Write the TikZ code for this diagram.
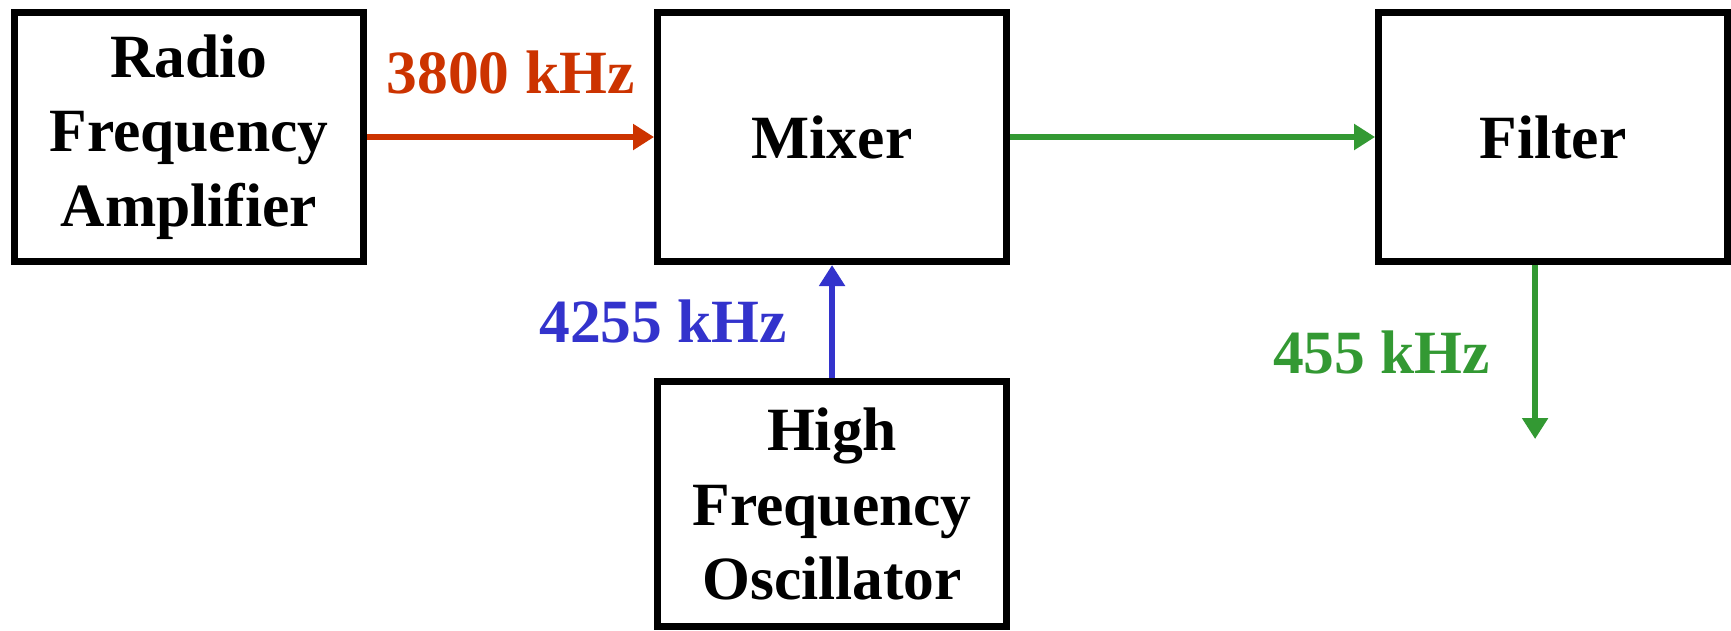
\documentclass[tikz,border=0pt]{standalone}
\usepackage{fontspec}
\setmainfont{Liberation Serif}
\usepackage{xcolor}
\usepackage{tikz}
\usetikzlibrary{arrows.meta,positioning,calc}
\definecolor{ink}{HTML}{000000}
\definecolor{rfred}{HTML}{CC3300}
\definecolor{loblue}{HTML}{3333CC}
\definecolor{ifgreen}{HTML}{339933}
\tikzset{
  block/.style={
    rectangle,draw=ink,line width=4pt,fill=white,
    minimum width=6.98cm,minimum height=4.98cm,align=center,
    font=\fontsize{35}{42.5}\selectfont\bfseries,inner sep=0pt
  },
  freq/.style={font=\fontsize{35}{42}\selectfont\bfseries,inner sep=0pt},
  flow/.style={-{Triangle[length=0.42cm,width=0.5cm]},line width=3.4pt}
}

\begin{document}
\begin{tikzpicture}
  \useasboundingbox (0,0) rectangle (34.62,-12.62);
  \node[block,anchor=north west] (rfamp) at (0.22,-0.18) {Radio\\Frequency\\Amplifier};
  \node[block,right=5.74cm of rfamp] (mixer) {Mixer};
  \node[block,right=7.3cm of mixer] (filter) {Filter};
  \node[block,minimum height=4.9cm,below=2.26cm of mixer] (hfosc) {High\\Frequency\\Oscillator};
  \coordinate[below left=3.48cm and 0.36cm of filter.south] (ifout);
  \draw[flow,rfred] (rfamp) -- node[freq,above=0.8cm] (rflabel) {3800 kHz} (mixer);
  \draw[flow,loblue] (hfosc) -- node[freq,left=0.84cm] (lolabel) {4255 kHz} (mixer);
  \draw[flow,ifgreen] (mixer) -- (filter);
  \draw[flow,ifgreen] (filter.south -| ifout) -- node[freq,left=0.84cm] (iflabel) {455 kHz} (ifout);
\end{tikzpicture}
\end{document}
